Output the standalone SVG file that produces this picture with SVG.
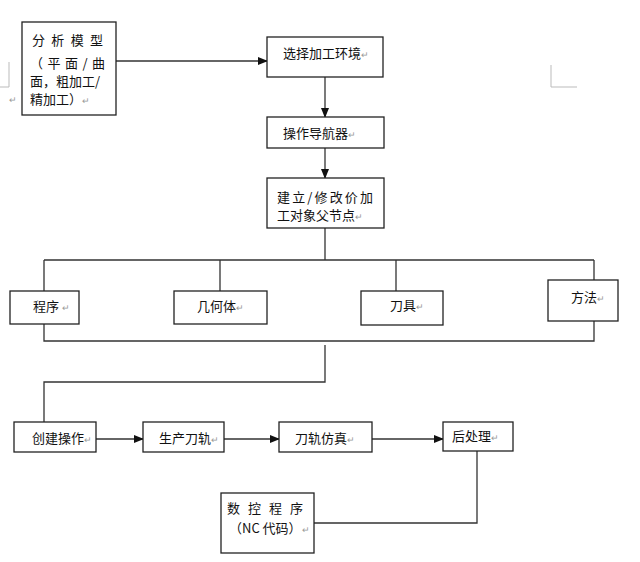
<svg xmlns="http://www.w3.org/2000/svg" width="640" height="562" viewBox="0 0 640 562">
<defs>
<marker id="arr" markerWidth="10" markerHeight="8" refX="9" refY="4" orient="auto" markerUnits="userSpaceOnUse">
<path d="M0,0 L10,4 L0,8 z" fill="#111"/>
</marker>
</defs>
<style>
.box{fill:#fff;stroke:#222;stroke-width:1.3}
.ln{fill:none;stroke:#333;stroke-width:1.3}
.mk{fill:none;stroke:#bbb;stroke-width:1}
text{font-family:"Noto Sans CJK SC","Liberation Sans",sans-serif;font-size:13px;fill:#111}
.pm{font-size:9px;fill:#999}
</style>
<rect width="640" height="562" fill="#fff"/>
<g id="margins">
<path class="mk" d="M9,62 V87 H0"/>
<path class="mk" d="M551,65 V87 H577"/>
<text class="pm" x="9" y="103">↵</text>
</g>
<g id="connectors">
<path class="ln" d="M116,61 H267" marker-end="url(#arr)"/>
<path class="ln" d="M325,77 V117" marker-end="url(#arr)"/>
<path class="ln" d="M325,148 V178" marker-end="url(#arr)"/>
<path class="ln" d="M325,228 V260 M44,260 H594 M44,260 V291 M220,260 V291 M396,260 V291 M594,260 V280"/>
<path class="ln" d="M44,324 V341 H594 V321"/>
<path class="ln" d="M325,345 V382 H44 V422"/>
<path class="ln" d="M96,439 H143" marker-end="url(#arr)"/>
<path class="ln" d="M224,439 H279" marker-end="url(#arr)"/>
<path class="ln" d="M372,439 H443" marker-end="url(#arr)"/>
<path class="ln" d="M477,451 V523 H314"/>
</g>
<g id="n1">
<rect class="box" x="22" y="22" width="94" height="93"/>
<text x="32" y="45" textLength="71" lengthAdjust="spacing">分析模型</text>
<text x="30" y="68" textLength="75" lengthAdjust="spacing">（平面/曲</text>
<text x="30" y="86">面，粗加工/</text>
<text x="30" y="104">精加工）<tspan class="pm">↵</tspan></text>
</g>
<g id="n2">
<rect class="box" x="267" y="37" width="116" height="40"/>
<text x="283" y="58">选择加工环境<tspan class="pm">↵</tspan></text>
</g>
<g id="n3">
<rect class="box" x="267" y="117" width="117" height="31"/>
<text x="283" y="138">操作导航器<tspan class="pm">↵</tspan></text>
</g>
<g id="n4">
<rect class="box" x="267" y="178" width="117" height="50"/>
<text x="277" y="202" textLength="96" lengthAdjust="spacing">建立/修改价加</text>
<text x="277" y="220">工对象父节点<tspan class="pm">↵</tspan></text>
</g>
<g id="n5">
<rect class="box" x="10" y="291" width="69" height="33"/>
<text x="33" y="311">程序 <tspan class="pm">↵</tspan></text>
</g>
<g id="n6">
<rect class="box" x="174" y="291" width="93" height="33"/>
<text x="197" y="311">几何体<tspan class="pm">↵</tspan></text>
</g>
<g id="n7">
<rect class="box" x="361" y="291" width="82" height="34"/>
<text x="390" y="310">刀具<tspan class="pm">↵</tspan></text>
</g>
<g id="n8">
<rect class="box" x="548" y="280" width="70" height="41"/>
<text x="571" y="302">方法<tspan class="pm">↵</tspan></text>
</g>
<g id="n9">
<rect class="box" x="14" y="422" width="82" height="30"/>
<text x="32" y="443">创建操作<tspan class="pm">↵</tspan></text>
</g>
<g id="n10">
<rect class="box" x="143" y="422" width="81" height="30"/>
<text x="159" y="443">生产刀轨<tspan class="pm">↵</tspan></text>
</g>
<g id="n11">
<rect class="box" x="279" y="422" width="93" height="30"/>
<text x="295" y="443">刀轨仿真<tspan class="pm">↵</tspan></text>
</g>
<g id="n12">
<rect class="box" x="443" y="422" width="70" height="29"/>
<text x="452" y="441">后处理<tspan class="pm">↵</tspan></text>
</g>
<g id="n13">
<rect class="box" x="221" y="493" width="93" height="60"/>
<text x="227" y="513" textLength="76" lengthAdjust="spacing">数控程序</text>
<text x="229" y="533">（NC 代码）<tspan class="pm">↵</tspan></text>
</g>
</svg>
